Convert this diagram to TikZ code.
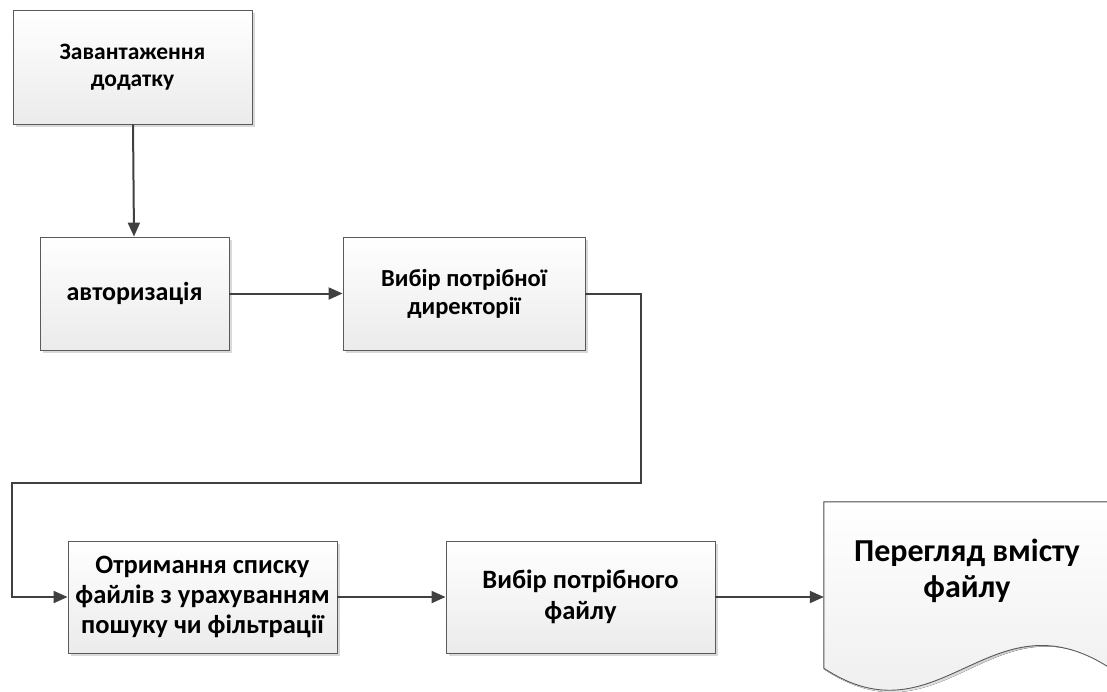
\documentclass[tikz,border=0pt]{standalone}
\usepackage{fontspec}
\setmainfont{Carlito}
\usetikzlibrary{arrows.meta,shadows,calc}

\definecolor{boxline}{HTML}{5A5A5A}
\definecolor{wire}{HTML}{404040}
\definecolor{boxbottom}{HTML}{EBEBEB}
\definecolor{shade}{HTML}{D9D9D9}

\tikzset{
  stepbox/.style={rectangle, draw=boxline, line width=0.9pt,
    top color=white, bottom color=boxbottom,
    drop shadow={shadow xshift=3pt, shadow yshift=-3pt, fill=shade, opacity=1},
    align=center, inner sep=0pt},
  flow/.style={draw=wire, line width=2pt,
    -{Triangle[length=14pt,width=12pt]}},
}

\begin{document}
\begin{tikzpicture}[x=1pt,y=-1pt]
\useasboundingbox (0,0) rectangle (1107,691);

% process steps
\node[stepbox, minimum width=239, minimum height=114,
      font=\fontsize{23.5}{27.5}\selectfont\bfseries] (load) at (132.5,67)
  {Завантаження\\додатку};
\node[stepbox, minimum width=189, minimum height=113,
      font=\fontsize{26}{30}\selectfont\bfseries] (auth) at (134.5,293.5)
  {авторизація};
\node[stepbox, minimum width=242, minimum height=113,
      font=\fontsize{24.5}{28}\selectfont\bfseries] (dir) at (464,293.5)
  {Вибір потрібної\\директорії};
\node[stepbox, minimum width=269, minimum height=112,
      font=\fontsize{26.5}{30}\selectfont\bfseries] (list) at (202.5,597)
  {Отримання списку\\файлів з урахуванням\\пошуку чи фільтрації};
\node[stepbox, minimum width=269, minimum height=112,
      font=\fontsize{26.5}{31}\selectfont\bfseries] (pick) at (580.5,597)
  {Вибір потрібного\\файлу};

% document shape for the final step
\node[rectangle, minimum width=286, minimum height=166, inner sep=0pt] (view) at (967,585) {};
\fill[shade, shift={(3,3)}]
  (view.north west) -- (view.north east) -- ($(view.south east)+(0,-1)$)
  .. controls (990,590) and (940,745) .. ($(view.south west)+(0,1)$) -- cycle;
\path[draw=boxline, line width=0.9pt, top color=white, bottom color=boxbottom]
  (view.north west) -- (view.north east) -- (view.south east)
  .. controls (990,590) and (940,745) .. (view.south west) -- cycle;
\node[align=center, font=\fontsize{32}{36}\selectfont\bfseries] (viewtext) at (967,571)
  {Перегляд вмісту\\файлу};

% connectors
\coordinate (turnR) at (641,483);
\coordinate (turnL) at (12,483);
\draw[flow] (load) -- (auth);
\draw[flow] (auth) -- (dir);
\draw[flow] (dir.east) -| (turnR) -- (turnL) |- (list.west);
\draw[flow] (list) -- (pick);
\draw[flow] (pick.east) -- (view.west |- pick.east);
\end{tikzpicture}
\end{document}
